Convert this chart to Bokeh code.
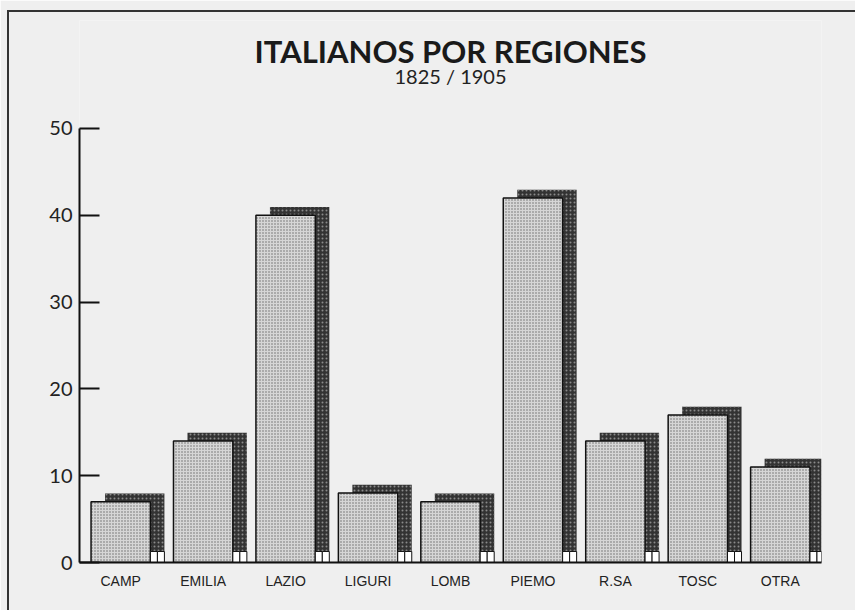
from bokeh.plotting import figure
from bokeh.models import FactorRange, Range1d, FixedTicker, ColumnDataSource, InlineStyleSheet
from bokeh.transform import dodge
from bokeh.core.properties import value
from bokeh.embed import file_html
from bokeh.resources import INLINE

# ---- data ----
regions = ["CAMP", "EMILIA", "LAZIO", "LIGURI", "LOMB", "PIEMO", "R.SA", "TOSC", "OTRA"]
counts = [7, 14, 40, 8, 7, 42, 14, 17, 11]
y_ticks = [0, 10, 20, 30, 40, 50]
title_text = "ITALIANOS POR REGIONES"
subtitle_text = "1825 / 1905"

# ---- styling constants ----
BG = "#efefef"
depth_x = 0.17
depth_y = 0.95
leg_h = 1.27
bar_w = 0.72

src = ColumnDataSource(dict(region=regions, count=counts,
                            back_top=[c + depth_y for c in counts]))

p = figure(x_range=FactorRange(factors=regions, range_padding=0),
           y_range=Range1d(0, 62.44),
           width=855, height=610,
           output_backend="svg", toolbar_location=None,
           min_border_left=79, min_border_right=34,
           min_border_top=20, min_border_bottom=48)

# frame line of the original page (top and left edges only)
p.stylesheets.append(InlineStyleSheet(css="""
:host { position: relative; overflow: hidden; }
:host::after {
  content: ""; position: absolute; left: 7px; top: 10px; right: -20px; bottom: -20px;
  border-top: 2px solid #333; border-left: 2px solid #333; pointer-events: none;
}
"""))

p.background_fill_color = BG
p.border_fill_color = BG
p.outline_line_color = None
p.xgrid.visible = False
p.ygrid.visible = False

# y axis
p.yaxis.ticker = FixedTicker(ticks=y_ticks)
p.yaxis.bounds = (0, 50)
p.yaxis.major_tick_in = 20
p.yaxis.major_tick_out = 0
p.yaxis.minor_tick_line_color = None
p.yaxis.axis_line_width = 2
p.yaxis.major_tick_line_width = 2
p.yaxis.axis_line_color = "#111"
p.yaxis.major_tick_line_color = "#111"
p.yaxis.major_label_text_font = "Lato"
p.yaxis.major_label_text_font_size = "20px"
p.yaxis.major_label_text_color = "#222"
p.yaxis.major_label_standoff = 7

# x axis
p.xaxis.major_tick_in = 0
p.xaxis.major_tick_out = 0
p.xaxis.axis_line_width = 2
p.xaxis.axis_line_color = "#111"
p.xaxis.major_label_text_font = "Liberation Sans"
p.xaxis.major_label_text_font_size = "14px"
p.xaxis.major_label_text_color = "#222"
p.xaxis.major_label_standoff = 10

# back (depth) part of bars
p.vbar(x=dodge("region", depth_x, range=p.x_range), width=bar_w,
       bottom=leg_h, top="back_top", source=src,
       fill_color="#333333", line_color=None,
       hatch_pattern="dot", hatch_color="#8a8a8a", hatch_scale=4, hatch_weight=1)

# front face
p.vbar(x="region", width=bar_w, bottom=0, top="count", source=src,
       fill_color="#d6d6d6", line_color="#111", line_width=1.5,
       hatch_pattern="dot", hatch_color="#6a6a6a", hatch_scale=3, hatch_weight=1)

# little white "legs" under the depth part
for off in (bar_w / 2 + depth_x / 4, bar_w / 2 + 3 * depth_x / 4):
    p.vbar(x=dodge("region", off, range=p.x_range), width=depth_x / 2,
           bottom=0, top=leg_h, source=src,
           fill_color="white", line_color="#111", line_width=1)

# title and subtitle
p.text(x=["LOMB"], y=[58.97], text=[title_text],
       text_font=value("Lato"), text_font_style="bold", text_font_size="31px",
       text_align="center", text_baseline="middle", text_color="#1a1a1a")
p.text(x=["LOMB"], y=[56.0], text=[subtitle_text],
       text_font=value("Lato"), text_font_size="20px",
       text_align="center", text_baseline="middle", text_color="#222")

open("out.html", "w").write(file_html(p, INLINE))
